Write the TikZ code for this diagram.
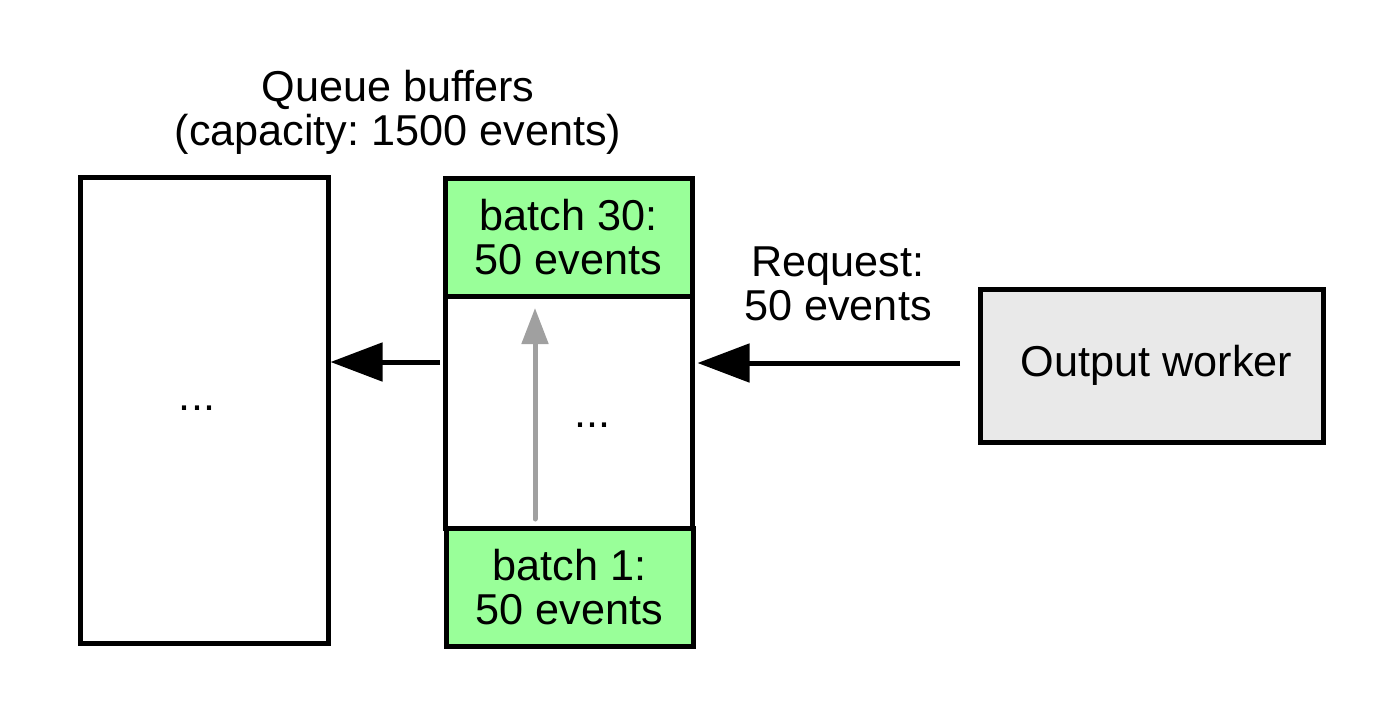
\documentclass[tikz,border=0pt]{standalone}
\usepackage{fontspec}
\setmainfont{Liberation Sans}
\usetikzlibrary{arrows.meta}
\definecolor{batchgreen}{HTML}{99FF99}
\definecolor{workergray}{HTML}{E9E9E9}
\definecolor{arrowgray}{HTML}{A0A0A0}
\frenchspacing
\tikzset{
  box/.style={draw=black, line width=2.5pt, inner sep=0pt, align=center},
  greenbox/.style={box, fill=batchgreen},
  lbl/.style={inner sep=0pt, align=center, font=\fontsize{21.6}{22}\selectfont},
  bigarrow/.style={line width=2.5pt, -{Triangle[length=26pt,width=19pt]}},
  grayarrow/.style={arrowgray, line width=2.5pt, line cap=round, -{Triangle[length=18pt,width=13pt]}}
}
\begin{document}
\begin{tikzpicture}[x=0.5pt,y=-0.5pt]
\useasboundingbox (0,0) rectangle (1400,723);
% left queue buffer
\node[box, minimum width=124pt, minimum height=233pt] (left) at (204,410) {};
\node[lbl] (ldots) at (197,408) {...};
% middle queue buffer
\node[box, minimum width=123.5pt, minimum height=116pt] (mid) at (568.5,412) {};
\node[greenbox, minimum width=123.5pt, minimum height=59pt, font=\fontsize{21.6}{22}\selectfont] (top) at (568.5,237) {batch 30:\\50 events};
\node[greenbox, minimum width=123.5pt, minimum height=59pt, font=\fontsize{21.6}{22}\selectfont] (bot) at (569.5,587) {batch 1:\\50 events};
\node[lbl] (mdots) at (592,425) {...};
% output worker
\node[box, fill=workergray, minimum width=171.5pt, minimum height=76.5pt, font=\fontsize{21.6}{22}\selectfont] (ow) at (1151.5,365.5) {\hspace{5pt}Output worker};
% labels
\node[lbl] (title) at (398,112) {Queue buffers\\(capacity: 1500 events)};
\node[lbl] (req) at (838,284) {Request:\\50 events};
% connectors
\coordinate (a1s) at (440,362);
\coordinate (a2s) at (960,363);
\coordinate (gs) at (535,519);
\coordinate (ge) at (535,308);
\draw[bigarrow] (a1s) -- (left.east |- a1s);
\draw[bigarrow] (a2s) -- ([xshift=1.5pt]mid.east |- a2s);
\draw[grayarrow] (gs) -- (ge);
\end{tikzpicture}
\end{document}
